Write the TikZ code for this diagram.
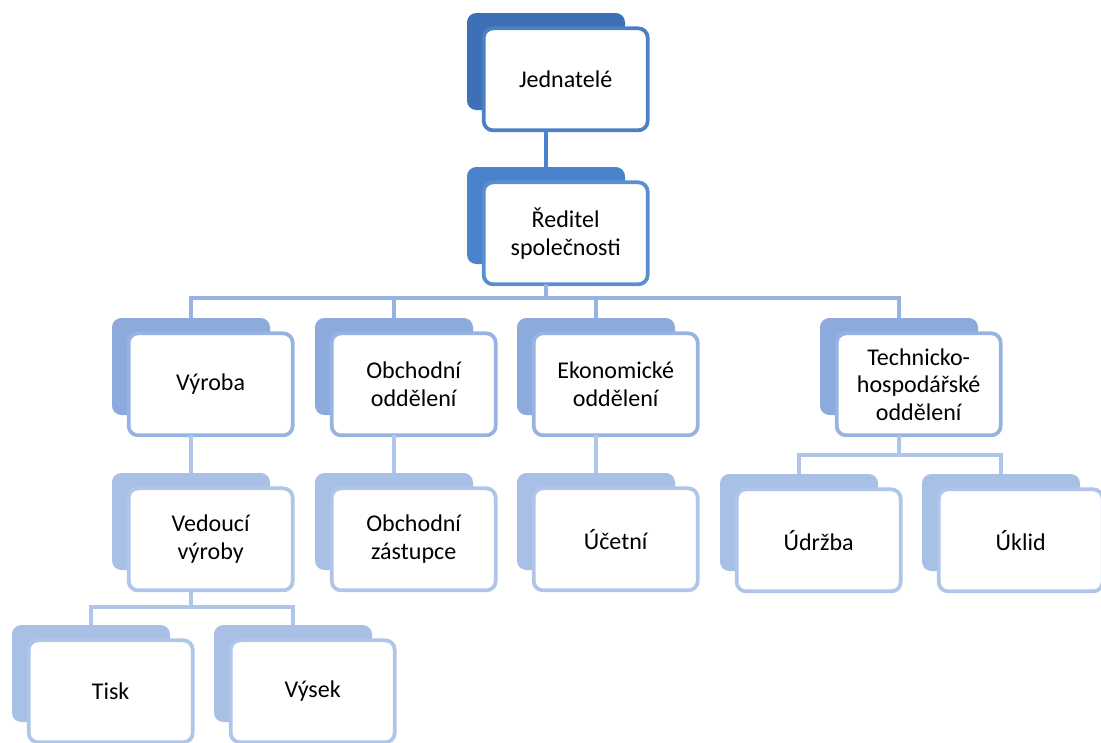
\documentclass[tikz,border=0pt]{standalone}
\usepackage{fontspec}
\setmainfont{Carlito}
\usepackage{xcolor}
\usetikzlibrary{positioning}

\definecolor{tone0}{HTML}{3D70B6}
\definecolor{edge0}{HTML}{4C80C6}
\definecolor{tone1}{HTML}{4A83CC}
\definecolor{edge1}{HTML}{5A8ED2}
\definecolor{tone2}{HTML}{8DAADD}
\definecolor{edge2}{HTML}{97B3E1}
\definecolor{tone3}{HTML}{A8C0E6}
\definecolor{edge3}{HTML}{AFC5E9}

\begin{document}
\begin{tikzpicture}[x=0.03cm,y=-0.03cm,every node/.style={outer sep=0pt,thick}]
\tikzstyle{tab}=[rounded corners=8pt,minimum width=4.74cm,minimum height=2.91cm,
inner sep=0pt,anchor=north west]
\tikzstyle{unit}=[draw,fill=white,line width=3.2pt,rounded corners=8pt,
minimum width=4.92cm,minimum height=3.06cm,inner sep=2pt,align=center,
font=\fontsize{20.5}{23.5}\selectfont]
\tikzstyle{link}=[line width=3.4pt]
\useasboundingbox (0,0) rectangle (1101,742);
%
\node (jedtab) [tab,fill=tone0] at (467,13) {};
\node (jed) [unit,draw=edge0,below right=0.46cm and 0.5cm of jedtab.north west] {Jednatelé};
\node (redtab) [tab,fill=tone1] at (467,167) {};
\node (red) [unit,draw=edge1,below right=0.46cm and 0.5cm of redtab.north west] {Ředitel\\společnosti};
%
\node (vyrtab) [tab,fill=tone2] at (112,318) {};
\node (vyr) [unit,draw=edge2,below right=0.46cm and 0.5cm of vyrtab.north west] {Výroba};
\node (obchtab) [tab,fill=tone2] at (315,318) {};
\node (obch) [unit,draw=edge2,below right=0.46cm and 0.5cm of obchtab.north west] {Obchodní\\oddělení};
\node (ekotab) [tab,fill=tone2] at (517,318) {};
\node (eko) [unit,draw=edge2,below right=0.46cm and 0.5cm of ekotab.north west] {Ekonomické\\oddělení};
\node (techtab) [tab,fill=tone2] at (820,318) {};
\node (tech) [unit,draw=edge2,below right=0.46cm and 0.5cm of techtab.north west] {Technicko-\\hospodářské\\oddělení};
%
\node (vedtab) [tab,fill=tone3] at (112,473) {};
\node (ved) [unit,draw=edge3,below right=0.46cm and 0.5cm of vedtab.north west] {Vedoucí\\výroby};
\node (zasttab) [tab,fill=tone3] at (315,473) {};
\node (zast) [unit,draw=edge3,below right=0.46cm and 0.5cm of zasttab.north west] {Obchodní\\zástupce};
\node (ucttab) [tab,fill=tone3] at (517,473) {};
\node (uct) [unit,draw=edge3,below right=0.46cm and 0.5cm of ucttab.north west] {Účetní};
\node (udrtab) [tab,fill=tone3] at (720,474) {};
\node (udr) [unit,draw=edge3,below right=0.46cm and 0.5cm of udrtab.north west] {Údržba};
\node (ukltab) [tab,fill=tone3] at (922,474) {};
\node (ukl) [unit,draw=edge3,below right=0.46cm and 0.5cm of ukltab.north west] {Úklid};
%
\node (tisktab) [tab,fill=tone3] at (12,625) {};
\node (tisk) [unit,draw=edge3,below right=0.46cm and 0.5cm of tisktab.north west] {Tisk};
\node (vystab) [tab,fill=tone3] at (214,625) {};
\node (vys) [unit,draw=edge3,below right=0.46cm and 0.5cm of vystab.north west] {Výsek};
%
\coordinate (bus1) at (546,298);
\coordinate (bus2) at (899,455);
\coordinate (bus3) at (191,607);
\draw [link,tone1] (jedtab.south |- jed.south) -- (redtab.north);
\draw [link,edge2] (redtab.south |- red.south) -- (bus1);
\draw [link,edge2] (vyrtab.north) |- (bus1) -| (techtab.north);
\draw [link,edge2] (obchtab.north) -- (obchtab.north |- bus1);
\draw [link,edge2] (ekotab.north) -- (ekotab.north |- bus1);
\draw [link,edge3] (vyrtab.south |- vyr.south) -- (vedtab.north);
\draw [link,edge3] (obchtab.south |- obch.south) -- (zasttab.north);
\draw [link,edge3] (ekotab.south |- eko.south) -- (ucttab.north);
\draw [link,edge3] (techtab.south |- tech.south) -- (bus2);
\draw [link,edge3] (udrtab.north) |- (bus2) -| (ukltab.north);
\draw [link,edge3] (vedtab.south |- ved.south) -- (bus3);
\draw [link,edge3] (tisktab.north) |- (bus3) -| (vystab.north);
\end{tikzpicture}
\end{document}
